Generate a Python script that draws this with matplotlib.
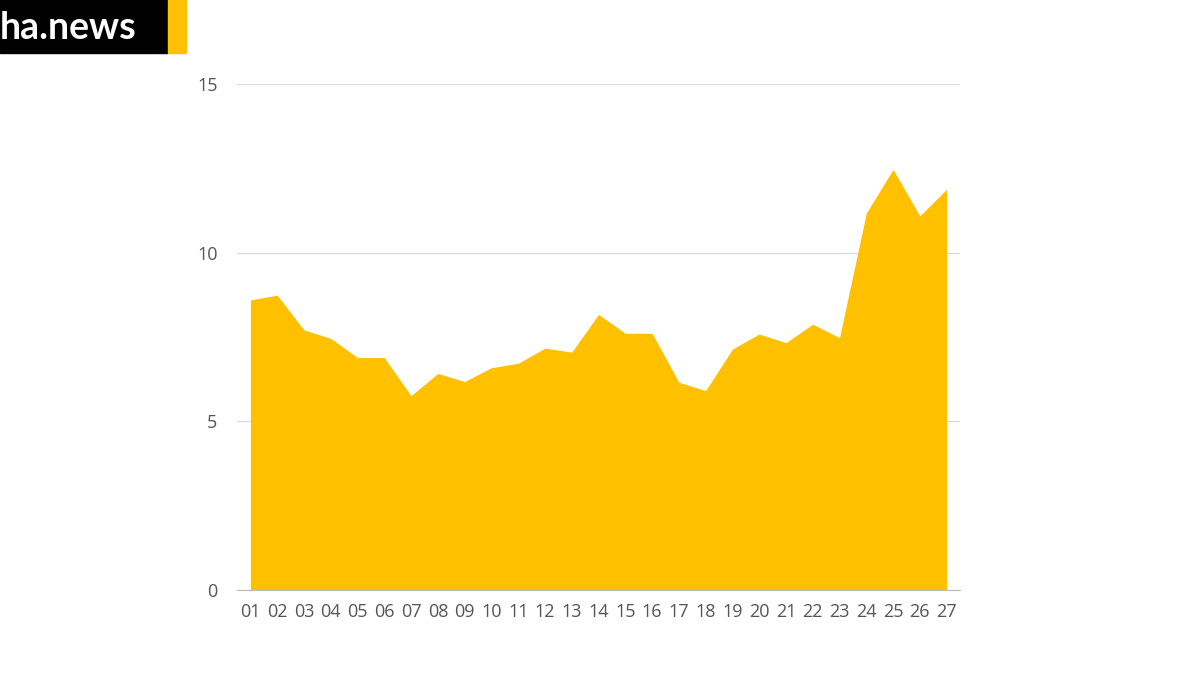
import matplotlib
matplotlib.use("Agg")
import matplotlib.pyplot as plt
from matplotlib.patches import Rectangle

days = ["01", "02", "03", "04", "05", "06", "07", "08", "09", "10", "11", "12", "13", "14",
        "15", "16", "17", "18", "19", "20", "21", "22", "23", "24", "25", "26", "27"]
values = [8.60, 8.74, 7.71, 7.46, 6.89, 6.89, 5.76, 6.42, 6.18, 6.59, 6.72, 7.17, 7.05, 8.17,
          7.61, 7.61, 6.16, 5.91, 7.14, 7.59, 7.33, 7.88, 7.48, 11.17, 12.47, 11.09, 11.88]
yticks = [0, 5, 10, 15]

yellow = "#FFC000"
plt.rcParams["font.family"] = ["Open Sans", "DejaVu Sans"]

fig = plt.figure(figsize=(12, 6.75), dpi=100)
ax = fig.add_axes([0.1975, 0.1259, 0.6025, 0.7497])

x = list(range(1, len(days) + 1))
ax.fill_between(x, values, 0, color=yellow, linewidth=0, zorder=2)

ax.set_xlim(0.5, 27.5)
ax.set_ylim(0, 15)
ax.set_xticks(x)
ax.set_xticklabels(days)
ax.set_yticks(yticks)
ax.tick_params(axis="x", length=0, pad=9, labelsize=13, colors="#555555")
ax.tick_params(axis="y", length=0, pad=14, labelsize=13, colors="#555555")
ax.grid(axis="y", color="#dddddd", linewidth=1, zorder=1)
for s in ["top", "right", "left"]:
    ax.spines[s].set_visible(False)
ax.spines["bottom"].set_color("#bbbbbb")
ax.spines["bottom"].set_zorder(3)

# logo box top-left
fig.patches.append(Rectangle((0, 1 - 53 / 675), 168 / 1200, 53 / 675,
                             transform=fig.transFigure, color="black", zorder=5))
fig.patches.append(Rectangle((168 / 1200, 1 - 53 / 675), 18 / 1200, 53 / 675,
                             transform=fig.transFigure, color=yellow, zorder=5))
fig.text(0.0, 1 - 28 / 675, "ha.news", color="white", fontsize=27, fontweight="bold",
         ha="left", va="center", zorder=6, family=["Lato", "DejaVu Sans"])

fig.savefig("out.png", dpi=100)
